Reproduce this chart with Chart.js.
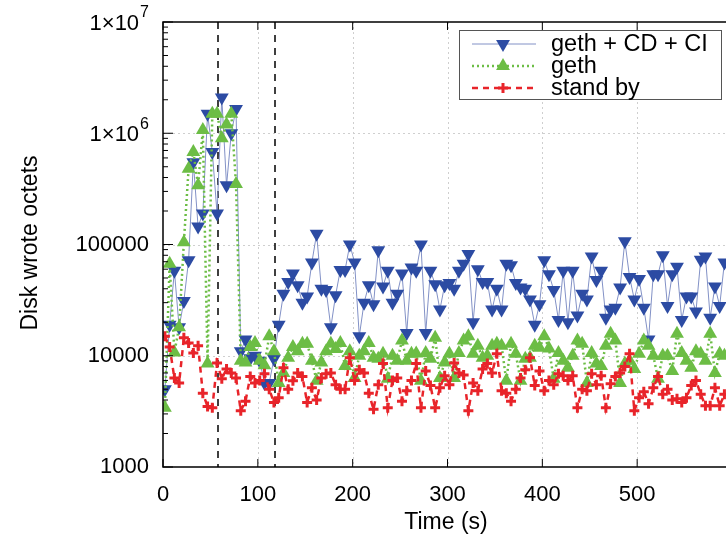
<!DOCTYPE html>
<html>
<head>
<meta charset="utf-8">
<script src="https://cdn.jsdelivr.net/npm/chart.js@4/dist/chart.umd.min.js"></script>
<style>
  html, body { margin: 0; padding: 0; background: #fff; overflow: hidden; }
  #wrap { width: 726px; height: 541px; overflow: hidden; }
</style>
</head>
<body>
<div id="wrap"><canvas id="myChart" width="740" height="541"></canvas></div>
<script>
// sample times (s)
var times = [2,7,12,17,22,27,32,37,42,47,
  52,57,62,67,72,77,82,87,92,97,
  102,107,112,117,122,127,132,137,142,147,
  152,157,162,167,172,177,182,187,192,197,
  202,207,212,217,222,227,232,237,242,247,
  252,257,262,267,272,277,282,287,292,297,
  302,307,312,317,322,327,332,337,342,347,
  352,357,362,367,372,377,382,387,392,397,
  402,407,412,417,422,427,432,437,442,447,
  452,457,462,467,472,477,482,487,492,497,
  502,507,512,517,522,527,532,537,542,547,
  552,557,562,567,572,577,582,587,592];

// geth + CD + CI
var gethCdCi = [5000,19000,58000,18000,31000,72000,550000,145000,190000,1500000,
  680000,190000,2100000,340000,1000000,1650000,11000,14000,9500,10000,
  9000,5700,5700,9400,19000,36000,46000,55000,43000,30000,
  34000,69000,125000,40000,39000,18000,35000,59000,59000,100000,
  69000,15000,30000,43000,29000,89000,42000,58000,30000,36000,
  55000,16000,62000,58000,100000,16000,58000,44000,26000,43000,
  45000,40000,58000,67000,82000,20000,60000,46000,46000,26000,
  40000,26000,67000,65000,45000,41000,40000,32000,19000,29000,
  72000,54000,39000,21000,58000,20000,58000,23000,36000,32000,
  78000,48000,58000,22000,26000,27000,41000,107000,51000,32000,
  49000,27000,14000,54000,54000,80000,28000,54000,63000,21000,
  34000,34000,25000,73000,78000,22000,42000,28000,69000];

// geth
var geth = [3400,67000,10700,18000,105000,480000,680000,340000,1070000,8500,
  1500000,1500000,900000,1200000,1500000,350000,9000,8700,12000,13000,
  9000,8200,15000,11000,5700,7000,9600,12000,11000,12800,
  12800,9000,5950,8700,11000,12800,11500,13000,8100,11000,
  6300,10000,11000,13000,9600,9400,10400,6200,10000,9000,
  13700,9000,10400,10500,5950,10600,9400,14500,6300,8700,
  10400,6300,10600,13700,15000,10400,12300,9600,10000,12300,
  12800,12300,5950,12800,10400,5950,9400,9600,12300,11800,
  15000,11600,6200,10600,9000,7800,10000,13700,12800,5700,
  10600,8500,8100,12300,15800,13700,5700,8500,9000,7600,
  10400,13700,12300,10000,6200,10000,10000,7300,15800,10600,
  9000,7800,11000,10400,9000,15800,7000,10400,10000];

// stand by
var standBy = [15000,12000,6300,5700,14500,13000,10600,12300,4600,3500,
  3400,8600,6200,7600,7000,6300,3200,3900,6500,5700,
  6000,6900,5000,3800,4200,7800,5000,5950,7000,6500,
  3800,5150,4000,6300,6900,7000,5500,5000,5000,9600,
  6000,7500,7000,4600,3300,5500,8500,3400,6000,6300,
  3900,4850,6000,8500,3400,7300,5400,3400,5150,6600,
  5500,8600,7000,6700,3200,5700,4850,7600,8500,7000,
  10400,4850,4600,3900,5000,6300,7500,9600,5400,7300,
  4850,6000,5500,6900,6600,6000,6600,3400,5000,4850,
  6900,5500,6600,3400,5600,6500,7000,8000,10400,3200,
  4200,4750,3700,5150,6500,4500,5000,4000,4100,3800,
  4200,5400,6000,4500,3550,3550,5150,3550,4500];

var xTicks = [0,100,200,300,400,500];
var yTicks = [1000,10000,100000,1000000,10000000];
var yPlainLabels = [1000,10000,100000];
var phaseMarks = [58,118];

var FONT = "'Liberation Sans', Arial, sans-serif";
var BLUE = '#2c4ba3', BLUE_LINE = '#8291c6', GREEN = '#6cbd45', RED = '#e8242a';

function pts(arr) { return times.map(function (t, i) { return { x: t, y: arr[i] }; }); }

function tri(ctx, x, y, r, down) {
  var s = down ? -1 : 1;
  ctx.beginPath();
  ctx.moveTo(x, y - s * r);
  ctx.lineTo(x - r * 0.866, y + s * r * 0.5);
  ctx.lineTo(x + r * 0.866, y + s * r * 0.5);
  ctx.closePath();
  ctx.fill();
}

var gnuplotLook = {
  id: 'gnuplotLook',
  beforeDatasetsDraw: function (chart) {
    var ctx = chart.ctx, a = chart.chartArea, xs = chart.scales.x, ys = chart.scales.y;
    ctx.save();
    ctx.strokeStyle = '#cfcfcf';
    ctx.lineWidth = 1;
    ctx.setLineDash([2, 3]);
    xTicks.forEach(function (v) {
      if (v === 0) return;
      var px = Math.round(xs.getPixelForValue(v)) + 0.5;
      ctx.beginPath(); ctx.moveTo(px, a.top); ctx.lineTo(px, a.bottom); ctx.stroke();
    });
    yTicks.forEach(function (v) {
      if (v === 1000 || v === 10000000) return;
      var py = Math.round(ys.getPixelForValue(v)) + 0.5;
      ctx.beginPath(); ctx.moveTo(a.left, py); ctx.lineTo(a.right, py); ctx.stroke();
    });
    // phase markers
    ctx.strokeStyle = '#000';
    ctx.lineWidth = 1.5;
    ctx.setLineDash([7, 6]);
    phaseMarks.forEach(function (v) {
      var px = Math.round(xs.getPixelForValue(v));
      ctx.beginPath(); ctx.moveTo(px, a.top); ctx.lineTo(px, a.bottom); ctx.stroke();
    });
    ctx.restore();
  },
  afterDraw: function (chart) {
    var ctx = chart.ctx, a = chart.chartArea, xs = chart.scales.x, ys = chart.scales.y;
    ctx.save();
    // frame
    ctx.strokeStyle = '#000';
    ctx.lineWidth = 1.5;
    ctx.setLineDash([]);
    ctx.beginPath();
    ctx.moveTo(a.right + 10, a.top); ctx.lineTo(a.left, a.top);
    ctx.lineTo(a.left, a.bottom); ctx.lineTo(a.right + 10, a.bottom);
    ctx.stroke();
    ctx.lineWidth = 1;
    // y ticks (major + minor, inward)
    for (var d = 0; d < yTicks.length; d++) {
      var dec = yTicks[d];
      var py = ys.getPixelForValue(dec);
      ctx.beginPath(); ctx.moveTo(a.left, py); ctx.lineTo(a.left + 10, py); ctx.stroke();
      if (d < yTicks.length - 1) {
        for (var k = 2; k <= 9; k++) {
          var pm = ys.getPixelForValue(dec * k);
          ctx.beginPath(); ctx.moveTo(a.left, pm); ctx.lineTo(a.left + 5, pm); ctx.stroke();
        }
      }
    }
    // x ticks bottom and top
    xTicks.forEach(function (v) {
      var px = xs.getPixelForValue(v);
      ctx.beginPath(); ctx.moveTo(px, a.bottom); ctx.lineTo(px, a.bottom - 8); ctx.stroke();
      ctx.beginPath(); ctx.moveTo(px, a.top); ctx.lineTo(px, a.top + 8); ctx.stroke();
    });
    // power-of-ten labels
    ctx.fillStyle = '#000';
    ctx.textBaseline = 'middle';
    ctx.textAlign = 'right';
    [[1000000, '6'], [10000000, '7']].forEach(function (p) {
      var py = ys.getPixelForValue(p[0]);
      ctx.font = '16px ' + FONT;
      ctx.fillText(p[1], 149, py - 9);
      var ew = ctx.measureText(p[1]).width;
      ctx.font = '22px ' + FONT;
      ctx.fillText('1\u00d710', 149 - ew - 1, py + 2);
    });
    // axis titles
    ctx.font = '23px ' + FONT;
    ctx.textAlign = 'center';
    ctx.fillText('Time (s)', 446, 523);
    ctx.translate(31, 243);
    ctx.rotate(-Math.PI / 2);
    ctx.fillText('Disk wrote octets', 0, 0);
    ctx.setTransform(1, 0, 0, 1, 0, 0);
    // legend
    ctx.fillStyle = '#fff';
    ctx.fillRect(459, 30, 262, 69);
    ctx.strokeStyle = '#555';
    ctx.lineWidth = 1;
    ctx.strokeRect(459.5, 30.5, 262, 69);
    var rows = [44, 66, 88];
    ctx.font = '23.5px ' + FONT;
    ctx.textAlign = 'left';
    ctx.fillStyle = '#000';
    ['geth + CD + CI', 'geth', 'stand by'].forEach(function (t, i) { ctx.fillText(t, 551, rows[i] + 1); });
    // sample 1
    ctx.strokeStyle = BLUE_LINE; ctx.lineWidth = 1; ctx.setLineDash([]);
    ctx.beginPath(); ctx.moveTo(472, rows[0]); ctx.lineTo(536, rows[0]); ctx.stroke();
    ctx.fillStyle = BLUE; tri(ctx, 503, rows[0], 8, true);
    // sample 2
    ctx.strokeStyle = GREEN; ctx.lineWidth = 2.5; ctx.setLineDash([2, 3]);
    ctx.beginPath(); ctx.moveTo(472, rows[1]); ctx.lineTo(536, rows[1]); ctx.stroke();
    ctx.fillStyle = GREEN; tri(ctx, 503, rows[1], 8, false);
    // sample 3
    ctx.strokeStyle = RED; ctx.lineWidth = 2.5; ctx.setLineDash([6, 5]);
    ctx.beginPath(); ctx.moveTo(472, rows[2]); ctx.lineTo(536, rows[2]); ctx.stroke();
    ctx.setLineDash([]); ctx.lineWidth = 3;
    ctx.beginPath(); ctx.moveTo(498, rows[2]); ctx.lineTo(508, rows[2]);
    ctx.moveTo(503, rows[2] - 5); ctx.lineTo(503, rows[2] + 5); ctx.stroke();
    ctx.restore();
  }
};

var ctx = document.getElementById('myChart');
var myChart = new Chart(ctx, {
  type: 'line',
  data: {
    datasets: [
      {
        label: 'geth + CD + CI',
        data: pts(gethCdCi),
        borderColor: BLUE_LINE,
        borderWidth: 1,
        pointStyle: 'triangle',
        rotation: 180,
        pointRadius: 8,
        pointBackgroundColor: BLUE,
        pointBorderColor: BLUE,
        pointBorderWidth: 0,
        fill: false,
        order: 3
      },
      {
        label: 'geth',
        data: pts(geth),
        borderColor: GREEN,
        borderWidth: 2.5,
        borderDash: [2, 3],
        pointStyle: 'triangle',
        pointRadius: 8,
        pointBackgroundColor: GREEN,
        pointBorderColor: GREEN,
        pointBorderWidth: 0,
        fill: false,
        order: 2
      },
      {
        label: 'stand by',
        data: pts(standBy),
        borderColor: RED,
        borderWidth: 2.5,
        borderDash: [6, 5],
        pointStyle: 'cross',
        pointRadius: 5,
        pointBorderColor: RED,
        pointBackgroundColor: RED,
        pointBorderWidth: 3,
        fill: false,
        order: 1
      }
    ]
  },
  options: {
    responsive: false,
    animation: false,
    events: [],
    layout: { padding: { top: 22, right: 8, left: 0, bottom: 0 } },
    plugins: { legend: { display: false }, tooltip: { enabled: false } },
    scales: {
      x: {
        type: 'linear',
        min: 0,
        max: 600,
        afterBuildTicks: function (s) { s.ticks = xTicks.map(function (v) { return { value: v }; }); },
        afterFit: function (s) { s.height = 74; s.paddingLeft = 0; s.paddingRight = 0; },
        grid: { display: false, drawTicks: false },
        border: { display: false },
        ticks: { color: '#000', padding: 15, maxRotation: 0, font: { family: FONT, size: 22 } }
      },
      y: {
        type: 'logarithmic',
        min: 1000,
        max: 10000000,
        afterBuildTicks: function (s) { s.ticks = yPlainLabels.map(function (v) { return { value: v }; }); },
        afterFit: function (s) { s.width = 163; s.paddingTop = 0; s.paddingBottom = 0; },
        grid: { display: false, drawTicks: false },
        border: { display: false },
        ticks: {
          color: '#000',
          padding: 14,
          font: { family: FONT, size: 22 },
          callback: function (v) { return String(v); }
        }
      }
    }
  },
  plugins: [gnuplotLook]
});
</script>
</body>
</html>
